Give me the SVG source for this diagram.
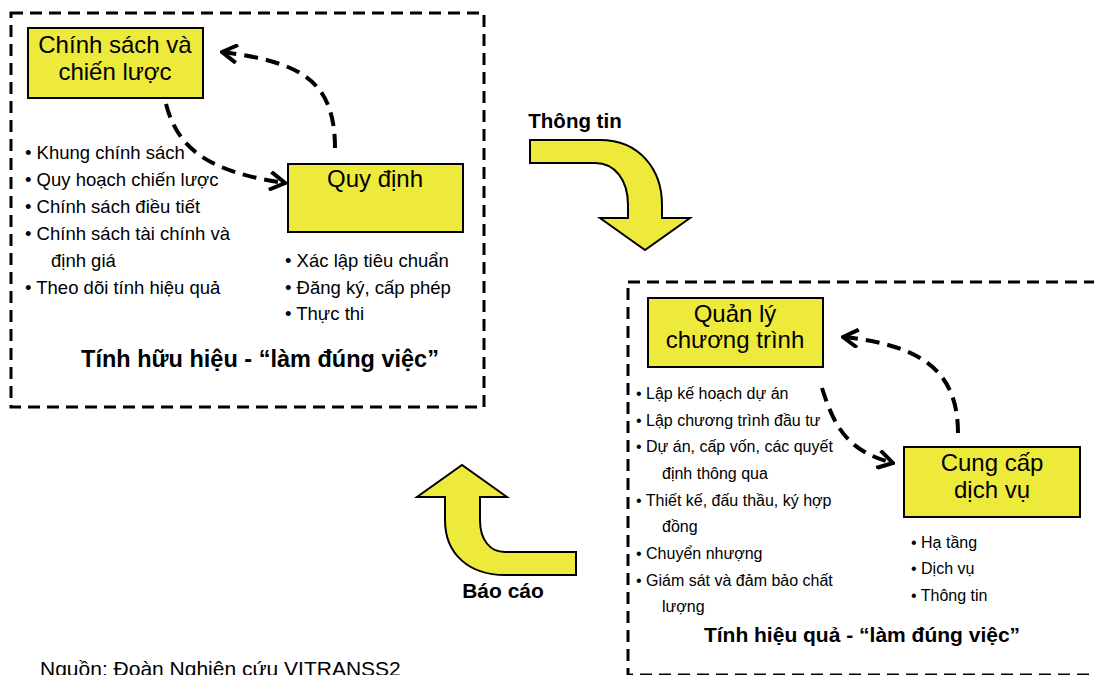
<svg xmlns="http://www.w3.org/2000/svg" width="1094" height="675" viewBox="0 0 1094 675">
<style>
.frame{fill:none;stroke:#000;stroke-width:3;stroke-dasharray:12 7}
.box{fill:#EEEA3C;stroke:#000;stroke-width:2}
.title{font-family:"Liberation Sans",Arial,sans-serif;font-size:24px;fill:#000;text-anchor:middle}
.bl{font-family:"Liberation Sans",Arial,sans-serif;font-size:18.5px;fill:#000}
.bs{font-family:"Liberation Sans",Arial,sans-serif;font-size:16px;fill:#000}
.head{font-family:"Liberation Sans",Arial,sans-serif;font-weight:bold;fill:#000;text-anchor:middle}
.dash{fill:none;stroke:#000;stroke-width:4;stroke-dasharray:14 8}
.big{fill:#EEEA3C;stroke:#000;stroke-width:2;stroke-linejoin:miter}
</style>
<defs>
<marker id="open" viewBox="0 0 20 20" markerWidth="20" markerHeight="20" refX="18" refY="10" orient="auto" markerUnits="userSpaceOnUse">
<path d="M3,1 L18,10 L3,19" fill="none" stroke="#000" stroke-width="4"/>
</marker>
</defs>
<rect width="1094" height="675" fill="#fff"/>
<g id="frame-left"><rect class="frame" x="11" y="13" width="473" height="394"/></g>
<g id="frame-right"><rect class="frame" x="628" y="282" width="490" height="393"/></g>

<g id="node-chinh-sach">
<rect class="box" x="28" y="28" width="175" height="70"/>
<text class="title" x="115" y="53">Chính sách và</text>
<text class="title" x="115" y="80">chiến lược</text>
</g>
<g id="node-quy-dinh">
<rect class="box" x="288" y="164" width="175" height="68"/>
<text class="title" x="375" y="187">Quy định</text>
</g>
<g id="list-chinh-sach" class="bl">
<text x="25" y="159">• Khung chính sách</text>
<text x="25" y="186">• Quy hoạch chiến lược</text>
<text x="25" y="213">• Chính sách điều tiết</text>
<text x="25" y="240">• Chính sách tài chính và</text>
<text x="51" y="267">định giá</text>
<text x="25" y="294">• Theo dõi tính hiệu quả</text>
</g>
<g id="list-quy-dinh" class="bl">
<text x="285" y="267">• Xác lập tiêu chuẩn</text>
<text x="285" y="294">• Đăng ký, cấp phép</text>
<text x="285" y="320">• Thực thi</text>
</g>
<text class="head" x="260" y="367" font-size="23.5">Tính hữu hiệu - “làm đúng việc”</text>

<g id="node-quan-ly">
<rect class="box" x="648" y="298" width="175" height="69"/>
<text class="title" x="735" y="322">Quản lý</text>
<text class="title" x="735" y="348">chương trình</text>
</g>
<g id="node-cung-cap">
<rect class="box" x="904" y="447" width="176" height="70"/>
<text class="title" x="992" y="471">Cung cấp</text>
<text class="title" x="992" y="498">dịch vụ</text>
</g>
<g id="list-quan-ly" class="bs">
<text x="636" y="399">• Lập kế hoạch dự án</text>
<text x="636" y="426">• Lập chương trình đầu tư</text>
<text x="636" y="452">• Dự án, cấp vốn, các quyết</text>
<text x="662" y="479">định thông qua</text>
<text x="636" y="506">• Thiết kế, đấu thầu, ký hợp</text>
<text x="662" y="532">đồng</text>
<text x="636" y="559">• Chuyển nhượng</text>
<text x="636" y="586">• Giám sát và đảm bảo chất</text>
<text x="662" y="612">lượng</text>
</g>
<g id="list-cung-cap" class="bs">
<text x="911" y="548">• Hạ tầng</text>
<text x="911" y="574">• Dịch vụ</text>
<text x="911" y="601">• Thông tin</text>
</g>
<text class="head" x="862" y="642" font-size="21">Tính hiệu quả - “làm đúng việc”</text>

<g id="connectors">
<path class="dash" d="M166,104 C178,150 210,172 285,183" marker-end="url(#open)"/>
<path class="dash" d="M335,148 C335,80 300,62 222,52" marker-end="url(#open)"/>
<path class="dash" d="M822,388 C835,430 850,452 893,463" marker-end="url(#open)"/>
<path class="dash" d="M958,433 C958,370 920,345 843,337" marker-end="url(#open)"/>
</g>

<g id="flow-thong-tin">
<path class="big" d="M530,140 L600,140 C640,140 662,170 662,205 L662,218 L690,218 L645,250 L600,218 L628,218 L628,205 C628,180 615,163 595,163 L530,163 Z"/>
<text class="head" x="575" y="128" font-size="20.5">Thông tin</text>
</g>
<g id="flow-bao-cao">
<path class="big" d="M576,552 L505,552 C490,552 480,540 480,520 L480,497 L507,497 L462,465 L417,497 L445,497 L445,520 C445,555 470,575 505,575 L576,575 Z"/>
<text class="head" x="503" y="598" font-size="21">Báo cáo</text>
</g>

<text x="40" y="676" font-family="Liberation Sans, Arial, sans-serif" font-size="21" fill="#000">Nguồn: Đoàn Nghiên cứu VITRANSS2</text>
</svg>
